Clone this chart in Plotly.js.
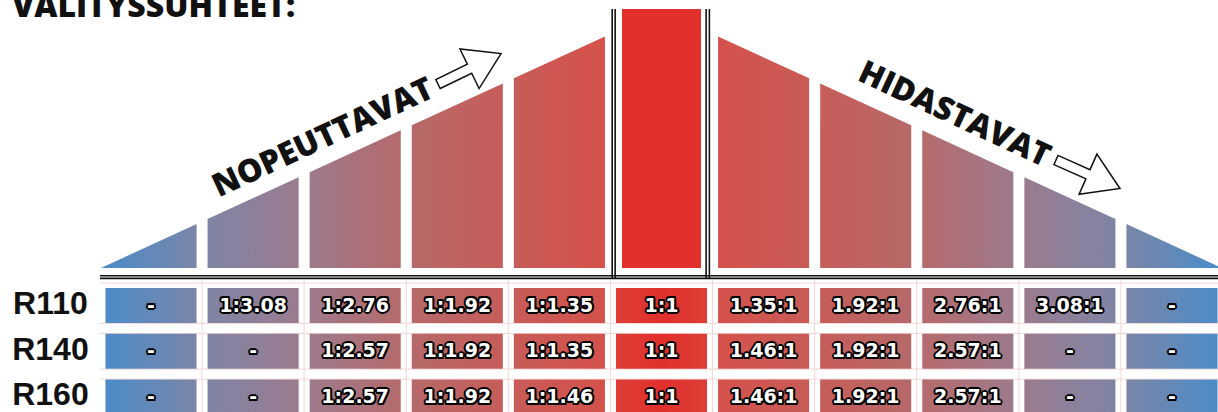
<!DOCTYPE html>
<html>
<head>
<meta charset="utf-8">
<script src="https://cdn.plot.ly/plotly-3.0.1.min.js"></script>
<style>
html,body{margin:0;padding:0;background:#ffffff;overflow:hidden}
#chart{width:1218px;height:412px}
</style>
</head>
<body>
<div id="chart"></div>
<script>
// ---------- data ----------
const titleText = 'VÄLITYSSUHTEET:';
const speedUpLabel = 'NOPEUTTAVAT';
const slowDownLabel = 'HIDASTAVAT';
const columns = [0, 1, 2, 3, 4, 5, 6, 7, 8, 9, 10];
const centerColumn = 5;
const rowLabels = ['R110', 'R140', 'R160'];
const rowIndex = [0, 1, 2];
const ratiosR110 = ['-', '1:3.08', '1:2.76', '1:1.92', '1:1.35', '1:1', '1.35:1', '1.92:1', '2.76:1', '3.08:1', '-'];
const ratiosR140 = ['-', '-', '1:2.57', '1:1.92', '1:1.35', '1:1', '1.46:1', '1.92:1', '2.57:1', '-', '-'];
const ratiosR160 = ['-', '-', '1:2.57', '1:1.92', '1:1.46', '1:1', '1.46:1', '1.92:1', '2.57:1', '-', '-'];
const ratioRows = [ratiosR110, ratiosR140, ratiosR160];

// ---------- styling / geometry ----------
const HALF = 0.446;          // half column width (column units)
const CENTER_HALF = 0.387;   // half width of the centre column in the ramp
const EDGE_L = -0.49, EDGE_R = 10.49;
const SLOPE = 46.9;          // ramp height per column unit
const CENTER_H = 259;
const CELL_HALF = 0.3825;

const rampScale = [
  [0, '#4a8cca'], [0.2, '#7d85a6'], [0.4, '#9c7b8e'],
  [0.6, '#b56a6b'], [0.8, '#c65d59'], [1, '#d5514b']
];
const rampScaleRev = rampScale.map(s => [1 - s[0], s[1]]).reverse();
const centerRed = '#e2302c';
const centerCellScale = [[0, '#dc3f38'], [0.5, '#e22f2b'], [1, '#dc3f38']];

function ramp(x) { return SLOPE * Math.min(x - EDGE_L, EDGE_R - x); }

const traces = [];

// ramp columns
columns.forEach(c => {
  if (c === centerColumn) {
    const x0 = c - CENTER_HALF, x1 = c + CENTER_HALF;
    traces.push({
      type: 'scatter', mode: 'none', fill: 'toself', fillcolor: centerRed,
      x: [x0, x0, x1, x1, x0], y: [0, CENTER_H, CENTER_H, 0, 0],
      hoverinfo: 'skip', xaxis: 'x', yaxis: 'y'
    });
    return;
  }
  const x0 = c === 0 ? EDGE_L : c - HALF;
  const x1 = c === columns.length - 1 ? EDGE_R : c + HALF;
  const left = c < centerColumn;
  traces.push({
    type: 'scatter', mode: 'none', fill: 'toself',
    x: [x0, x0, x1, x1, x0], y: [0, ramp(x0), ramp(x1), 0, 0],
    fillgradient: left
      ? {type: 'horizontal', colorscale: rampScale, start: EDGE_L, stop: centerColumn - 1 + HALF}
      : {type: 'horizontal', colorscale: rampScaleRev, start: centerColumn + 1 - HALF, stop: EDGE_R},
    hoverinfo: 'skip', xaxis: 'x', yaxis: 'y'
  });
});

// table cells
rowIndex.forEach(r => {
  columns.forEach(c => {
    const x0 = c - HALF, x1 = c + HALF;
    const y0 = r - CELL_HALF, y1 = r + CELL_HALF;
    let grad;
    if (c === centerColumn) grad = {type: 'horizontal', colorscale: centerCellScale, start: x0, stop: x1};
    else if (c < centerColumn) grad = {type: 'horizontal', colorscale: rampScale, start: EDGE_L, stop: centerColumn - 1 + HALF};
    else grad = {type: 'horizontal', colorscale: rampScaleRev, start: centerColumn + 1 - HALF, stop: EDGE_R};
    traces.push({
      type: 'scatter', mode: 'none', fill: 'toself',
      x: [x0, x0, x1, x1, x0], y: [y0, y1, y1, y0, y0],
      fillgradient: grad, hoverinfo: 'skip', xaxis: 'x', yaxis: 'y2'
    });
  });
});

// cell texts
const outline = [
  '-1.4px -1.4px 0 #000', '1.4px -1.4px 0 #000', '-1.4px 1.4px 0 #000', '1.4px 1.4px 0 #000',
  '0 -2px 0 #000', '0 2px 0 #000', '-2px 0 0 #000', '2px 0 0 #000'
].join(', ');
ratioRows.forEach((row, r) => {
  traces.push({
    type: 'scatter', mode: 'text', x: columns, y: columns.map(() => r + 0.03), text: row,
    textposition: 'middle center',
    textfont: {family: 'DejaVu Sans', size: 19, weight: 'bold', color: '#ffffff', shadow: outline},
    hoverinfo: 'skip', xaxis: 'x', yaxis: 'y2'
  });
});

// row labels
traces.push({
  type: 'scatter', mode: 'text', x: rowIndex.map(() => -0.985), y: rowIndex.map(r => r + 0.01), text: rowLabels,
  textposition: 'middle center',
  textfont: {family: 'Liberation Sans', size: 32, weight: 'bold', color: '#111111'},
  hoverinfo: 'skip', xaxis: 'x', yaxis: 'y2'
});

// ---------- decorations ----------
const W = 1218, H = 412;
function toPaper(p) { return [p[0] / W, 1 - p[1] / H]; }
function arrowPath(tx, ty, angDeg) {
  const a = angDeg * Math.PI / 180;
  const u = [Math.cos(a), Math.sin(a)], n = [-Math.sin(a), Math.cos(a)];
  const w = 5, s = 35, hw = 22, hl = 35;
  const pt = (along, across) => toPaper([tx + along * u[0] + across * n[0], ty + along * u[1] + across * n[1]]);
  const pts = [pt(0, w), pt(s, w), pt(s, hw), pt(s + hl, 0), pt(s, -hw), pt(s, -w), pt(0, -w)];
  return 'M' + pts.map(p => p[0].toFixed(5) + ',' + p[1].toFixed(5)).join(' L') + ' Z';
}

const shapes = [];
// pale table grid
const pale = {color: '#f3d5d5', width: 1};
for (let i = 0; i < columns.length - 1; i++) {
  shapes.push({type: 'line', xref: 'x', yref: 'y2', x0: i + 0.5, x1: i + 0.5, y0: -0.55, y1: 2.4, line: pale, layer: 'below'});
}
[-0.49, 0.39, 0.61, 1.39, 1.61].forEach(y => {
  shapes.push({type: 'line', xref: 'x', yref: 'y2', x0: -0.5, x1: 10.6, y0: y, y1: y, line: pale, layer: 'below'});
});
// double horizontal baseline
[-7.8, -10.4].forEach(y => {
  shapes.push({type: 'line', xref: 'x', yref: 'y', x0: -0.5, x1: 10.6, y0: y, y1: y, line: {color: '#111', width: 1.6}});
});
// double vertical lines around centre column
[4.517, 4.546, 5.437, 5.469].forEach(x => {
  shapes.push({type: 'line', xref: 'x', yref: 'y', x0: x, x1: x, y0: -10.4, y1: CENTER_H, line: {color: '#111', width: 1.6}});
});
// hollow arrows
shapes.push({type: 'path', xref: 'paper', yref: 'paper', path: arrowPath(438, 84, -25.8), fillcolor: '#ffffff', line: {color: '#111', width: 1.5}});
shapes.push({type: 'path', xref: 'paper', yref: 'paper', path: arrowPath(1056, 160, 24), fillcolor: '#ffffff', line: {color: '#111', width: 1.5}});

const annotations = [
  {text: titleText, xref: 'paper', yref: 'paper', x: 10 / W, y: 1 - 28 / H, xanchor: 'left', yanchor: 'bottom',
   showarrow: false, font: {family: 'Open Sans', size: 32, weight: 800, color: '#111'}},
  {text: speedUpLabel, xref: 'x', yref: 'y', x: 1.675, y: 133, textangle: -25, showarrow: false,
   xanchor: 'center', yanchor: 'middle', font: {family: 'Open Sans', size: 32, weight: 800, color: '#111'}},
  {text: slowDownLabel, xref: 'x', yref: 'y', x: 7.884, y: 156, textangle: 25, showarrow: false,
   xanchor: 'center', yanchor: 'middle', font: {family: 'Open Sans', size: 32, weight: 800, color: '#111'}}
];

const layout = {
  width: W, height: H,
  margin: {l: 0, r: 0, t: 0, b: 0, pad: 0},
  paper_bgcolor: '#ffffff', plot_bgcolor: '#ffffff',
  showlegend: false,
  xaxis: {range: [-151 / 102.1, (W - 151) / 102.1], visible: false, fixedrange: true},
  yaxis: {range: [-144, 268], visible: false, fixedrange: true},
  yaxis2: {range: [2.3279, -6.6776], visible: false, overlaying: 'y', fixedrange: true},
  shapes: shapes,
  annotations: annotations
};

Plotly.newPlot('chart', traces, layout, {displayModeBar: false, staticPlot: true});
</script>
</body>
</html>
